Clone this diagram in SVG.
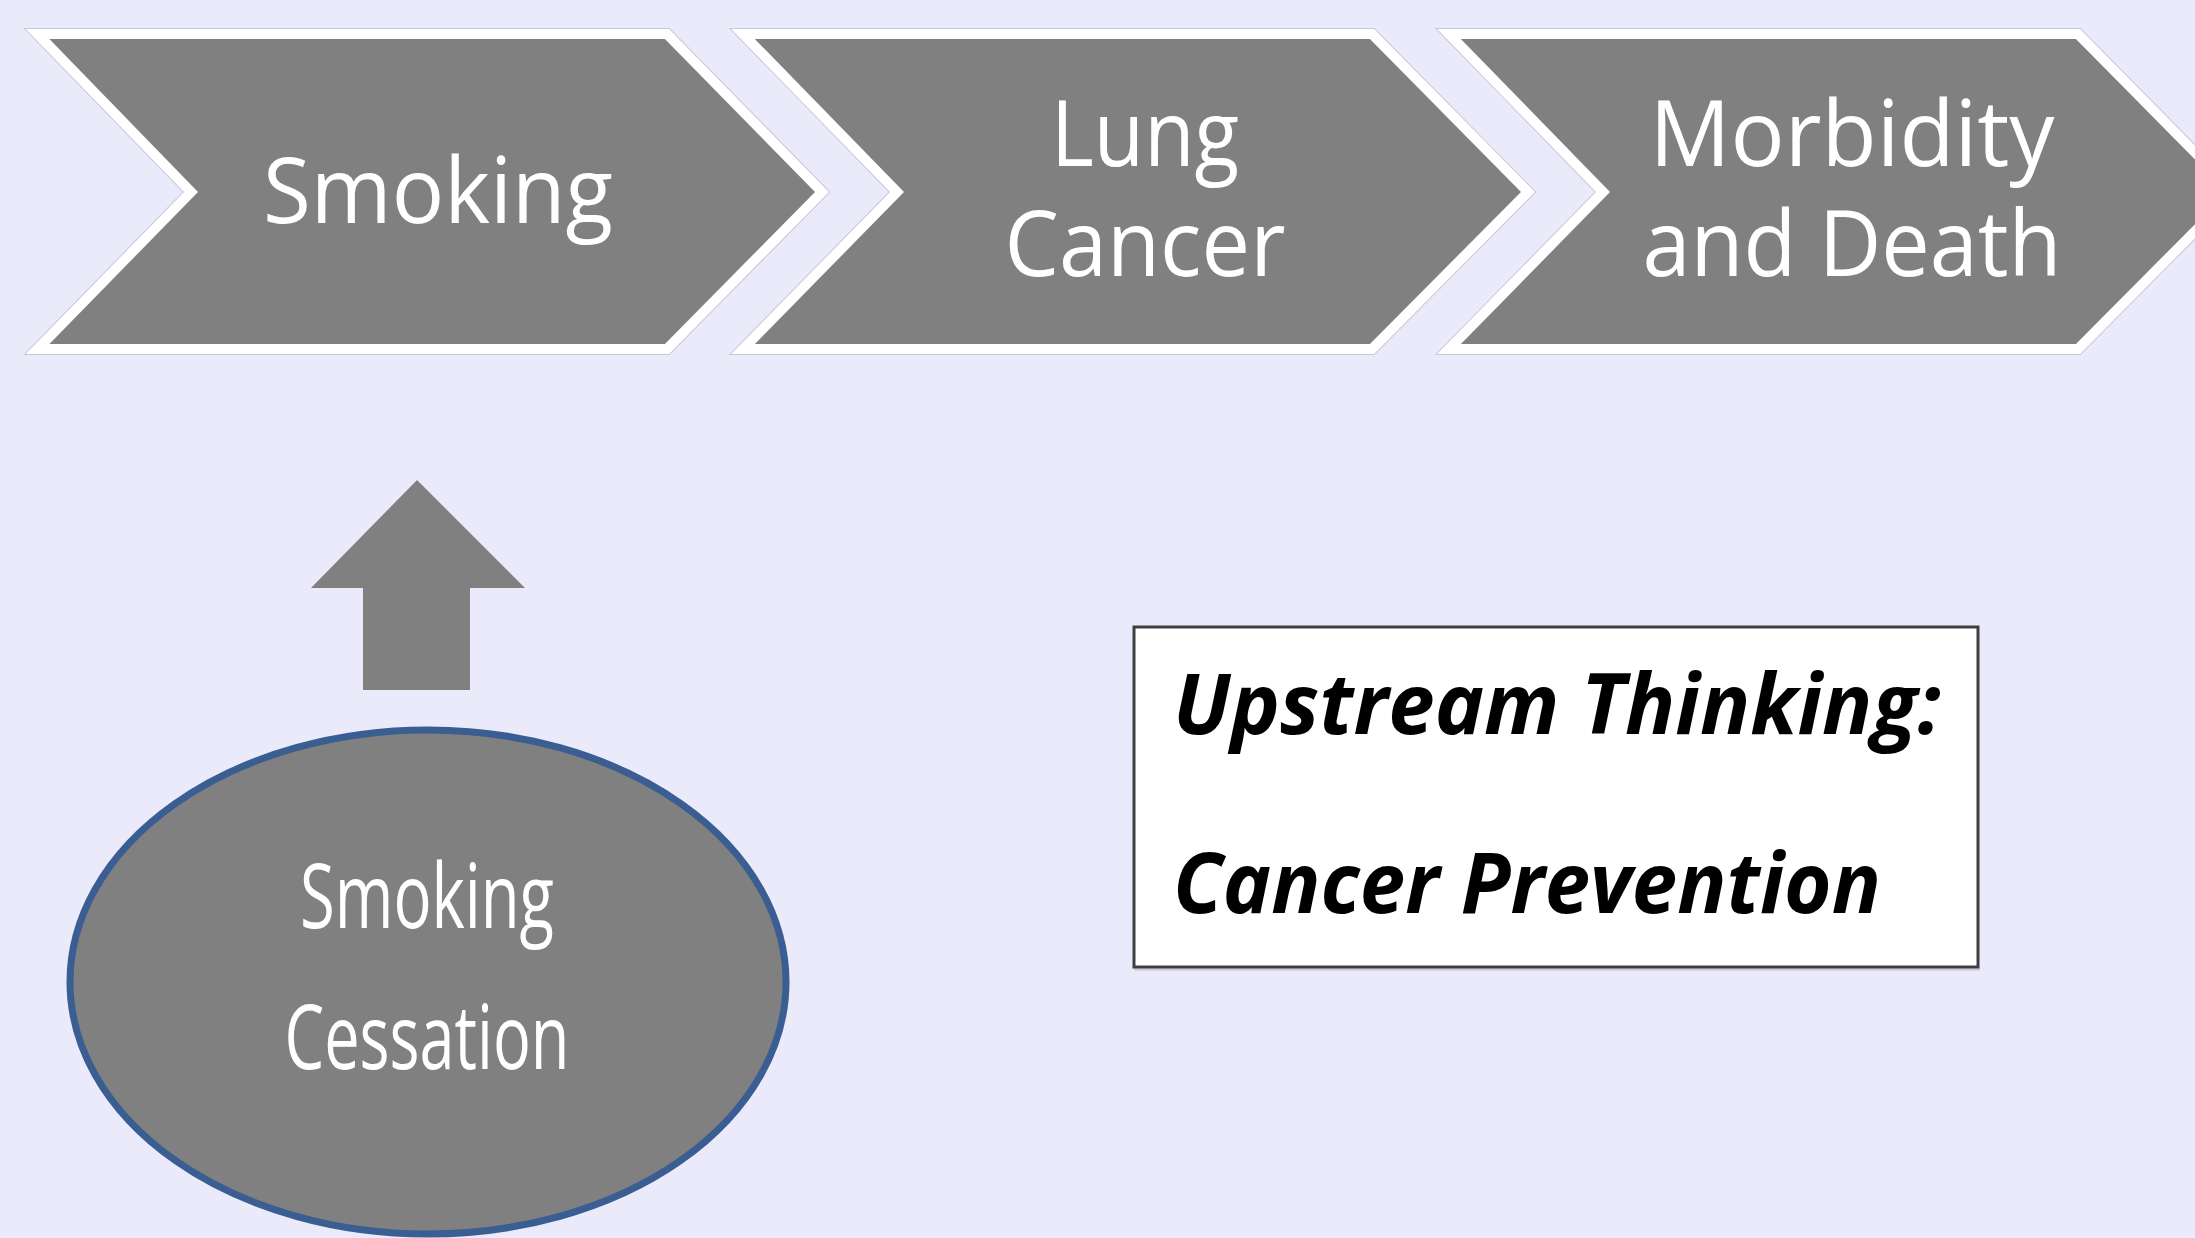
<svg xmlns="http://www.w3.org/2000/svg" width="2195" height="1238" viewBox="0 0 2195 1238">
  <style>
    .chev-halo { fill: none; stroke: #c6c8da; stroke-width: 12; stroke-linejoin: miter; }
    .chev { fill: #808080; stroke: #ffffff; stroke-width: 10; stroke-linejoin: miter; }
    .lbl { font-family: "Open Sans", "Liberation Sans", sans-serif; fill: #ffffff; text-anchor: middle; }
    .big { font-size: 91px; }
    .ell { font-size: 90px; }
    .note { font-family: "Open Sans", "Liberation Sans", sans-serif; font-weight: bold; font-style: italic; font-size: 84px; fill: #000000; }
  </style>
  <rect x="0" y="0" width="2195" height="1238" fill="#eaeafa"/>

  <g id="node-smoking">
    <path class="chev-halo" d="M37.5,34 L667,34 L822,192 L667,349 L37.5,349 L191,192 Z"/>
    <path class="chev" d="M37.5,34 L667,34 L822,192 L667,349 L37.5,349 L191,192 Z"/>
    <text class="lbl big" x="438" y="223" textLength="350" lengthAdjust="spacingAndGlyphs">Smoking</text>
  </g>

  <g id="node-lung-cancer">
    <path class="chev-halo" d="M743,34 L1372,34 L1528,192 L1372,349 L743,349 L897,192 Z"/>
    <path class="chev" d="M743,34 L1372,34 L1528,192 L1372,349 L743,349 L897,192 Z"/>
    <text class="lbl big" x="1145" y="166" textLength="188" lengthAdjust="spacingAndGlyphs">Lung</text>
    <text class="lbl big" x="1145" y="276" textLength="281" lengthAdjust="spacingAndGlyphs">Cancer</text>
  </g>

  <g id="node-morbidity">
    <path class="chev-halo" d="M1449,34 L2078,34 L2234,192 L2078,349 L1449,349 L1603,192 Z"/>
    <path class="chev" d="M1449,34 L2078,34 L2234,192 L2078,349 L1449,349 L1603,192 Z"/>
    <text class="lbl big" x="1852" y="166" textLength="405" lengthAdjust="spacingAndGlyphs">Morbidity</text>
    <text class="lbl big" x="1852" y="276" textLength="419" lengthAdjust="spacingAndGlyphs">and Death</text>
  </g>

  <g id="connectors">
    <path d="M417,480 L525,588 L470,588 L470,690 L363,690 L363,588 L311,588 Z" fill="#808080"/>
  </g>

  <g id="node-cessation">
    <ellipse cx="428" cy="982" rx="358" ry="252" fill="#808080" stroke="#3a5d92" stroke-width="7"/>
    <text class="lbl ell" x="427" y="928" textLength="254" lengthAdjust="spacingAndGlyphs">Smoking</text>
    <text class="lbl ell" x="427" y="1069" textLength="285" lengthAdjust="spacingAndGlyphs">Cessation</text>
  </g>

  <g id="node-note">
    <line x1="1134" y1="969.5" x2="1980" y2="969.5" stroke="#c8c8da" stroke-width="2"/>
    <rect x="1134" y="627" width="844" height="340" fill="#ffffff" stroke="#3f3f3f" stroke-width="3"/>
    <text class="note" x="1173" y="734" textLength="768" lengthAdjust="spacingAndGlyphs">Upstream Thinking:</text>
    <text class="note" x="1173" y="913" textLength="708" lengthAdjust="spacingAndGlyphs">Cancer Prevention</text>
  </g>
</svg>
